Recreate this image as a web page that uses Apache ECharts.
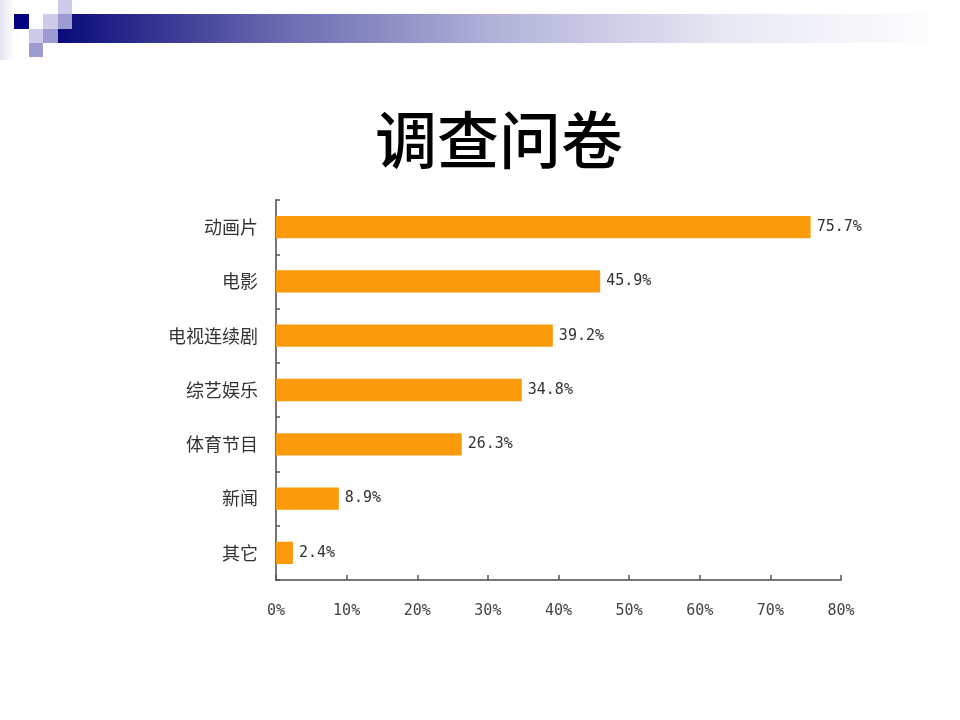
<!DOCTYPE html>
<html>
<head>
<meta charset="utf-8">
<script src="https://cdn.jsdelivr.net/npm/echarts@6/dist/echarts.min.js"></script>
<style>html,body{margin:0;padding:0;background:#fff}#c{width:960px;height:720px}</style>
</head>
<body>
<div id="c"></div>
<script>
const categories = ['动画片', '电影', '电视连续剧', '综艺娱乐', '体育节目', '新闻', '其它'];
const values = [75.7, 45.9, 39.2, 34.8, 26.3, 8.9, 2.4];
const titleText = '调查问卷';

const chart = echarts.init(document.getElementById('c'), null, {renderer: 'canvas'});
const sq = (x, y, w, h, c) => ({type: 'rect', shape: {x, y, width: w, height: h}, style: {fill: c}, silent: true});
chart.setOption({
  backgroundColor: '#ffffff',
  animation: false,
  title: {
    text: titleText,
    left: 370,
    top: 104,
    textStyle: {fontFamily: 'Noto Sans CJK SC', fontSize: 62, fontWeight: 500, color: '#000'}
  },
  graphic: [
    {type: 'rect', shape: {x: 0, y: 0, width: 14, height: 60}, silent: true,
      style: {fill: new echarts.graphic.LinearGradient(0, 0, 1, 0, [{offset: 0, color: '#e4e4f0'}, {offset: 1, color: '#ffffff'}])}},
    {type: 'rect', shape: {x: 58, y: 14, width: 890, height: 29}, silent: true,
      style: {fill: new echarts.graphic.LinearGradient(0, 0, 1, 0, [
        {offset: 0, color: '#0a0a7a'},
        {offset: 0.25, color: '#6a6ab0'},
        {offset: 0.5, color: '#b4b4da'},
        {offset: 0.75, color: '#e8e8f4'},
        {offset: 1, color: '#ffffff'}])}},
    sq(14, 14, 15, 15, '#000080'),
    sq(43, 14, 15, 15, '#ccccea'),
    sq(58, 0, 14, 14, '#ccccea'),
    sq(58, 14, 14, 15, '#9c9cd0'),
    sq(29, 29, 14, 14, '#ccccea'),
    sq(43, 29, 15, 14, '#9c9cd0'),
    sq(29, 43, 14, 14, '#9c9cd0')
  ],
  grid: {left: 276, right: 119, top: 200, bottom: 140, containLabel: false},
  xAxis: {
    type: 'value', min: 0, max: 80, interval: 10,
    axisLine: {show: true, lineStyle: {color: '#777', width: 2}},
    axisTick: {show: true, inside: true, length: 5, lineStyle: {color: '#555', width: 1.5}},
    splitLine: {show: false},
    axisLabel: {formatter: '{value}%', margin: 24, color: '#444', fontFamily: 'DejaVu Sans Mono', fontSize: 15}
  },
  yAxis: {
    type: 'category', data: categories, inverse: true,
    axisLine: {show: true, lineStyle: {color: '#777', width: 2}},
    axisTick: {show: true, inside: true, length: 4, lineStyle: {color: '#555', width: 1.5}},
    axisLabel: {margin: 18, color: '#333', fontFamily: 'Noto Sans CJK SC', fontSize: 18}
  },
  series: [{
    type: 'bar', data: values, barCategoryGap: '59%',
    itemStyle: {color: '#fb9b0c'},
    label: {show: true, position: 'right', distance: 6, formatter: p => p.value + '%',
      color: '#333', fontFamily: 'DejaVu Sans Mono', fontSize: 15}
  }]
});
</script>
</body>
</html>
